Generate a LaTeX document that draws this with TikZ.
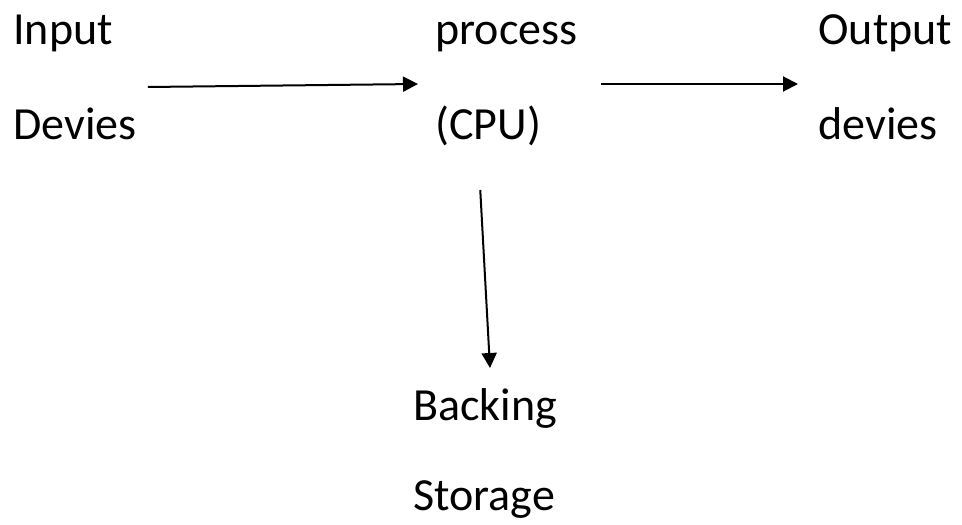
\documentclass[tikz,border=0pt]{standalone}
\usepackage{fontspec}
\setmainfont{Carlito}
\usetikzlibrary{arrows.meta,calc}

\begin{document}
\begin{tikzpicture}[x=0.5pt, y=0.5pt,
		label/.style={inner sep=0pt, anchor=base west, font=\fontsize{23}{28}\selectfont},
		arr/.style={line width=1pt, -{Triangle[length=7.5pt, width=7.5pt]}}]
		\useasboundingbox (0,0) rectangle (962,-524);

		% left column
		\node[label] (inp) at (13, -45) {Input};
		\node[label] (dev) at (13, -140) {Devies};

		% middle column
		\node[label] (proc) at (435, -45) {process};
		\node[label] (cpu) at (435, -140) {(CPU)};

		% right column
		\node[label] (out) at (818, -45) {Output};
		\node[label] (dvs) at (818, -140) {devies};

		% bottom
		\node[label] (back) at (413, -420) {Backing};
		\node[label] (stor) at (413, -510) {Storage};

		\draw[arr] ($(dev.base east)+(11,53)$) -- ($(cpu.base west)+(-17,56)$);
		\draw[arr] ($(cpu.base east)+(59,56)$) -- ($(dvs.base west)+(-20,56)$);
		\draw[arr] ($(cpu.base)+(-8,-50)$) -- ($(back.base west)+(77,52)$);
	\end{tikzpicture}
\end{document}
